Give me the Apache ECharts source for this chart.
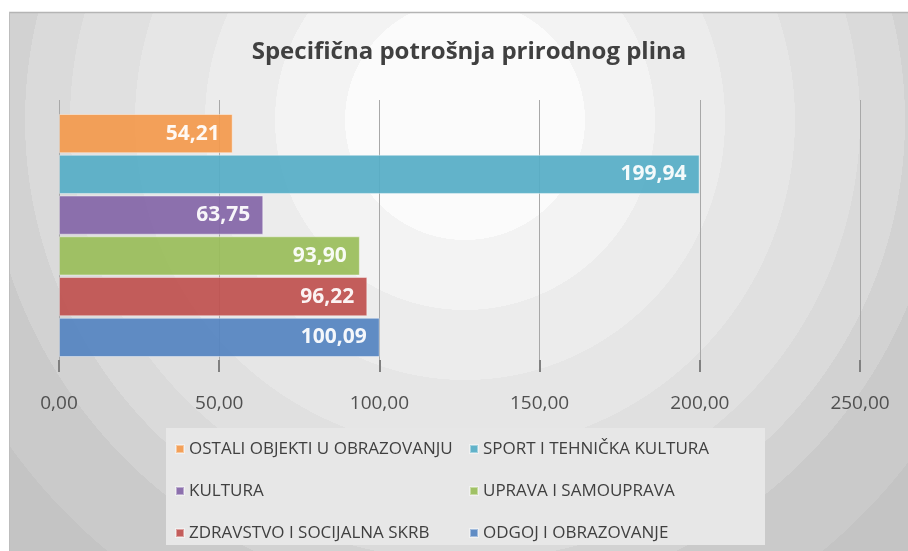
<!DOCTYPE html>
<html>
<head>
<meta charset="utf-8">
<script src="https://cdn.jsdelivr.net/npm/echarts@6/dist/echarts.min.js"></script>
<style>
html,body{margin:0;padding:0;background:#fff;}
#chart{width:908px;height:551px;}
</style>
</head>
<body>
<div id="chart"></div>
<script>
// ---- data ----
var titleText = 'Specifična potrošnja prirodnog plina';
var seriesNames = ['OSTALI OBJEKTI U OBRAZOVANJU', 'SPORT I TEHNIČKA KULTURA', 'KULTURA', 'UPRAVA I SAMOUPRAVA', 'ZDRAVSTVO I SOCIJALNA SKRB', 'ODGOJ I OBRAZOVANJE'];
var seriesValues = [54.21, 199.94, 63.75, 93.90, 96.22, 100.09];
var seriesColors = ['#f39a4e', '#56adc6', '#8466a8', '#9abd5a', '#c05250', '#5584c1'];
var legendCol1 = ['OSTALI OBJEKTI U OBRAZOVANJU', 'KULTURA', 'ZDRAVSTVO I SOCIJALNA SKRB'];
var legendCol2 = ['SPORT I TEHNIČKA KULTURA', 'UPRAVA I SAMOUPRAVA', 'ODGOJ I OBRAZOVANJE'];
var axisMin = 0, axisMax = 250, axisInterval = 50;

function fmt(v) { return v.toFixed(2).replace('.', ','); }

// background banded radial gradient
var bands = [[0,'#fbfbfb'],[120,'#f3f3f3'],[190,'#ececec'],[260,'#e6e6e6'],[330,'#e0e0e0'],[395,'#dadada'],[440,'#d2d2d2'],[480,'#cacaca'],[560,'#c4c4c4'],[650,'#bebebe']];
var R = 720;
var stops = [];
for (var i = 0; i < bands.length; i++) {
  var start = bands[i][0] / R;
  var end = (i + 1 < bands.length ? bands[i + 1][0] : R) / R;
  stops.push({offset: start, color: bands[i][1]});
  stops.push({offset: end - 0.0001, color: bands[i][1]});
}

var chart = echarts.init(document.getElementById('chart'), null, {renderer: 'canvas'});

var series = seriesNames.map(function (name, i) {
  return {
    name: name,
    type: 'bar',
    xAxisIndex: 1,
    yAxisIndex: 1,
    data: [seriesValues[i]],
    barGap: '4%',
    barCategoryGap: '0%',
    itemStyle: {color: seriesColors[i], opacity: 0.93, borderColor: 'rgba(255,255,255,0.45)', borderWidth: 1},
    label: {
      show: true,
      position: 'insideRight',
      distance: 13,
      color: '#ffffff',
      fontFamily: 'Open Sans',
      fontWeight: 'bold',
      fontSize: 21,
      formatter: function (p) { return fmt(p.value); }
    },
    emphasis: {disabled: true}
  };
});

var legendCommon = {
  orient: 'vertical',
  icon: 'rect',
  padding: 0,
  itemWidth: 8,
  itemHeight: 8,
  itemGap: 20,
  selectedMode: false,
  textStyle: {fontFamily: 'Open Sans', fontSize: 17, color: '#404040', lineHeight: 22}
};

chart.setOption({
  animation: false,
  backgroundColor: '#ffffff',
  title: {
    text: titleText,
    left: 464,
    top: 35,
    textAlign: 'center',
    textStyle: {fontFamily: 'Open Sans', fontWeight: 'bold', fontSize: 24, color: '#404040'}
  },
  graphic: [
    {type: 'rect', z: -10, silent: true, shape: {x: 9, y: 12, width: 899, height: 539},
      style: {fill: new echarts.graphic.RadialGradient(465, 120, R, stops, true)}},
    {type: 'line', z: -9, silent: true, shape: {x1: 9, y1: 12.5, x2: 908, y2: 12.5}, style: {stroke: '#b4b4b4', lineWidth: 1.5}},
    {type: 'line', z: -9, silent: true, shape: {x1: 9.5, y1: 12, x2: 9.5, y2: 551}, style: {stroke: '#bdbdbd', lineWidth: 1}},
    {type: 'rect', z: -8, silent: true, shape: {x: 166, y: 428, width: 599, height: 117}, style: {fill: '#e7e7e7'}}
  ],
  legend: [
    Object.assign({left: 175, top: 438, data: legendCol1}, legendCommon),
    Object.assign({left: 469, top: 438, data: legendCol2}, legendCommon)
  ],
  grid: [
    {left: 59, right: 48, top: 100, bottom: 191},
    {left: 59, right: 48, top: 114, bottom: 194}
  ],
  xAxis: [
    {
      type: 'value', gridIndex: 0, min: axisMin, max: axisMax, interval: axisInterval,
      axisLine: {show: false},
      axisTick: {show: true, length: 12, lineStyle: {color: '#808080', width: 2}},
      splitLine: {show: true, lineStyle: {color: '#a8a8a8', width: 1}},
      axisLabel: {margin: 34, fontFamily: 'Open Sans', fontSize: 19, color: '#505050', formatter: function (v) { return fmt(v); }}
    },
    {
      type: 'value', gridIndex: 1, min: axisMin, max: axisMax, interval: axisInterval,
      show: false
    }
  ],
  yAxis: [
    {type: 'category', gridIndex: 0, data: [''], axisLine: {show: false}, axisTick: {show: false}, axisLabel: {show: false}},
    {type: 'category', gridIndex: 1, data: [''], inverse: true, show: false}
  ],
  series: series
});
</script>
</body>
</html>
